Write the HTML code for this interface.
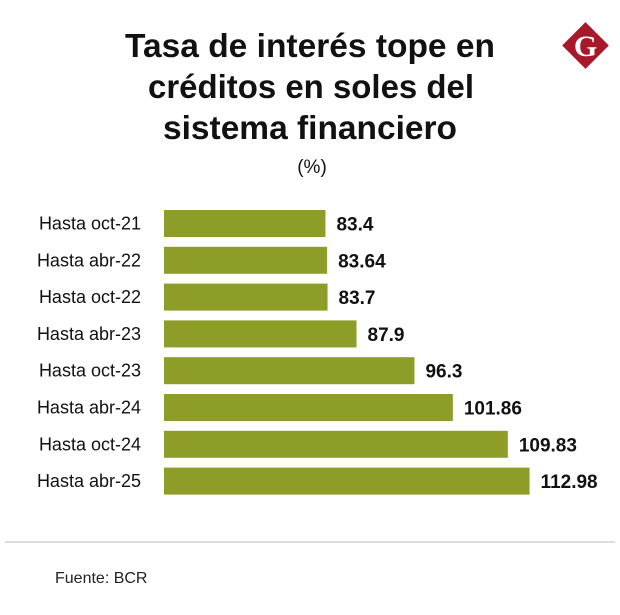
<!DOCTYPE html>
<html><head><meta charset="utf-8"><style>
body{margin:0;background:#fff;}
svg{display:block;font-family:"Liberation Sans",sans-serif;}
</style></head><body>
<svg id="chart" width="620" height="615">
<g font-weight="bold" font-size="33" fill="#111" text-anchor="start">
<text x="125" y="57" textLength="370" lengthAdjust="spacingAndGlyphs">Tasa de interés tope en</text>
<text x="148" y="98" textLength="326" lengthAdjust="spacingAndGlyphs">créditos en soles del</text>
<text x="163" y="139" textLength="294" lengthAdjust="spacingAndGlyphs">sistema financiero</text>
</g>
<text x="312" y="173" font-size="19" text-anchor="middle" fill="#111">(%)</text>
<g>
<rect x="569" y="29" width="33" height="33" fill="#a8182b" transform="rotate(45 585.5 45.5)"/>
<text x="585.5" y="56" font-family="Liberation Serif,serif" font-weight="bold" font-size="30" fill="#fff" text-anchor="middle">G</text>
</g>
<g id="bars"></g>
<line x1="5" y1="542" x2="615" y2="542" stroke="#bbb" stroke-width="1"/>
<text x="55" y="583" font-size="16" fill="#222">Fuente: BCR</text>
</svg>
<script>
const categories=["Hasta oct-21","Hasta abr-22","Hasta oct-22","Hasta abr-23","Hasta oct-23","Hasta abr-24","Hasta oct-24","Hasta abr-25"];
const values=[83.4,83.64,83.7,87.9,96.3,101.86,109.83,112.98];
const labels=["83.4","83.64","83.7","87.9","96.3","101.86","109.83","112.98"];
const x0=164, xmin=60, k=6.9, barTop=210, pitch=36.8, bh=27;
const xs=v=>x0+(v-xmin)*k;
const g=document.getElementById('bars');
const ns="http://www.w3.org/2000/svg";
categories.forEach((c,i)=>{
  const y=barTop+i*pitch;
  const r=document.createElementNS(ns,'rect');
  r.setAttribute('x',x0);r.setAttribute('y',y);r.setAttribute('width',xs(values[i])-x0);r.setAttribute('height',bh);r.setAttribute('fill','#8d9d28');
  
  
  g.appendChild(r);
  const t=document.createElementNS(ns,'text');
  t.setAttribute('x',141);t.setAttribute('y',y+bh/2+6);t.setAttribute('text-anchor','end');t.setAttribute('font-size','18');t.setAttribute('fill','#111');
  t.textContent=c;
  
  
  g.appendChild(t);
  const v=document.createElementNS(ns,'text');
  v.setAttribute('x',xs(values[i])+11);v.setAttribute('y',y+bh/2+7);v.setAttribute('font-size','19');v.setAttribute('font-weight','bold');v.setAttribute('fill','#111');
  v.textContent=labels[i];
  
  
  g.appendChild(v);
});
</script>
</body></html>
